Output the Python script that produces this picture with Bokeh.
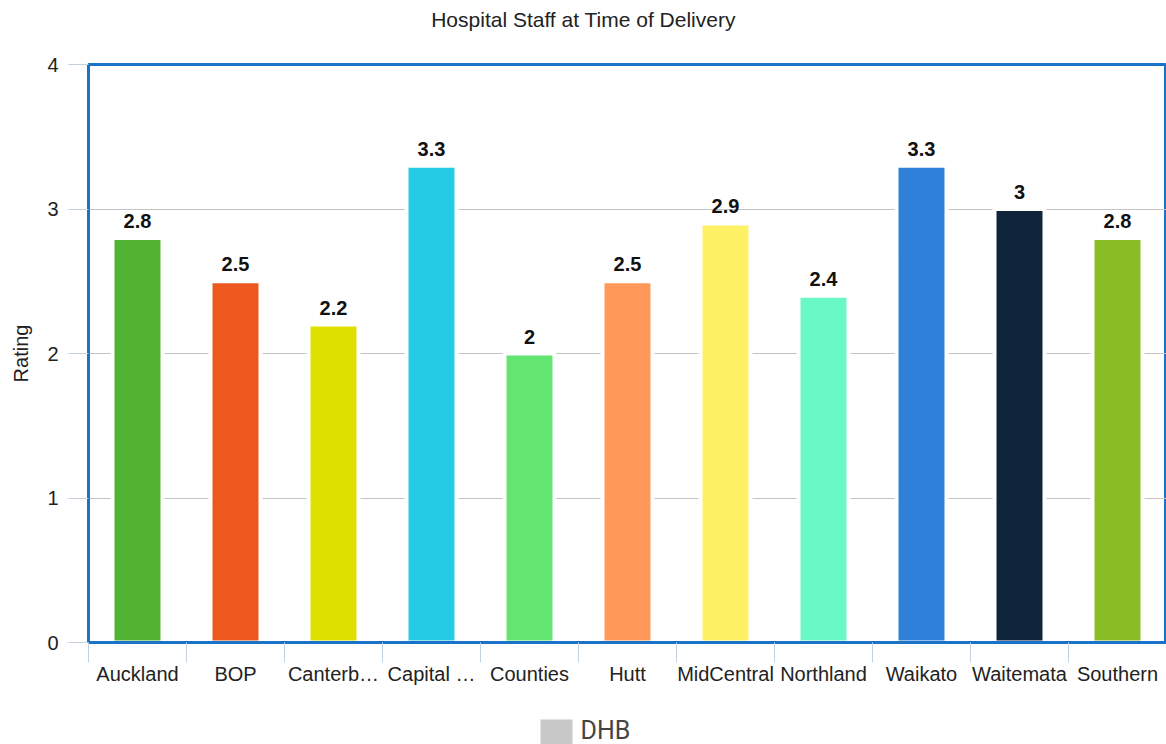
from bokeh.plotting import figure
from bokeh.layouts import column
from bokeh.models import ColumnDataSource, Range1d, FixedTicker
from bokeh.core.properties import value
from bokeh.embed import file_html
from bokeh.resources import INLINE

# District health boards and their mean rating of hospital staff at delivery
dhbs = ["Auckland", "BOP", "Canterbury", "Capital & Coast", "Counties", "Hutt",
        "MidCentral", "Northland", "Waikato", "Waitemata", "Southern"]
tick_labels = ["Auckland", "BOP", "Canterb\u2026", "Capital \u2026", "Counties", "Hutt",
               "MidCentral", "Northland", "Waikato", "Waitemata", "Southern"]
ratings = [2.8, 2.5, 2.2, 3.3, 2.0, 2.5, 2.9, 2.4, 3.3, 3.0, 2.8]
bar_colors = ["#52B232", "#EC581E", "#DEE000", "#25CBE3", "#64E571", "#FF9858",
              "#FFF166", "#6AF9C4", "#2F80D9", "#10243C", "#8ABC24"]
y_ticks = [0, 1, 2, 3, 4]
chart_title = "Hospital Staff at Time of Delivery"
series_name = "DHB"

FONT = "Liberation Sans"
TEXT = "#222222"
TICK = "#c3d1df"
BORDER = "#1a73c8"
W = 1166
LEFT = 88  # width of the y-axis gutter; the column aligns all frames to it


def strip(height):
    """A bare canvas measured in page pixels, for the header and key.

    Its frame lines up with the chart frame, so the x range starts at LEFT."""
    f = figure(
        frame_width=W - LEFT, frame_height=height,
        x_range=Range1d(LEFT, W), y_range=Range1d(0, height),
        x_axis_location=None, y_axis_location=None,
        output_backend="svg", toolbar_location=None,
        min_border=0,
    )
    f.outline_line_color = None
    f.xgrid.grid_line_color = None
    f.ygrid.grid_line_color = None
    f.border_fill_color = "white"
    f.background_fill_color = "white"
    return f


# header with the chart title
head = strip(38)
head.text(x=[W / 2], y=[19], text=[chart_title],
          text_align="center", text_baseline="middle",
          text_font=value(FONT), text_font_size="21px", text_color=TEXT)

# each board occupies one unit-wide slot; bars sit at the slot centres
n = len(dhbs)
centres = [i + 0.5 for i in range(n)]

source = ColumnDataSource(dict(
    dhb=dhbs,
    pos=centres,
    rating=ratings,
    color=bar_colors,
    label=[f"{v:g}" for v in ratings],
))

p = figure(
    width=W, height=666,
    x_range=Range1d(0, n),
    y_range=Range1d(0, 4),
    output_backend="svg", toolbar_location=None,
    min_border_left=LEFT, min_border_right=0,
    min_border_top=26, min_border_bottom=62,
)

p.outline_line_color = BORDER
p.outline_line_width = 3
p.background_fill_color = "white"
p.border_fill_color = "white"

p.xgrid.grid_line_color = None
p.ygrid.grid_line_color = "#c4c4c4"
p.ygrid.grid_line_width = 1

ya = p.yaxis[0]
ya.ticker = FixedTicker(ticks=y_ticks)
ya.axis_line_color = BORDER
ya.axis_line_width = 3
ya.major_tick_out = 20
ya.major_tick_in = 0
ya.major_tick_line_color = TICK
ya.minor_tick_line_color = None
ya.major_label_standoff = 10
ya.major_label_text_font = FONT
ya.major_label_text_font_size = "20px"
ya.major_label_text_color = TEXT
ya.axis_label = "Rating"
ya.axis_label_text_font = FONT
ya.axis_label_text_font_size = "20px"
ya.axis_label_text_font_style = "normal"
ya.axis_label_text_color = TEXT
ya.axis_label_standoff = 12

# category axis: names at slot centres, tick marks at slot boundaries
xa = p.xaxis[0]
xa.ticker = FixedTicker(ticks=centres, minor_ticks=list(range(n + 1)))
xa.major_label_overrides = {c: lbl for c, lbl in zip(centres, tick_labels)}
xa.axis_line_color = BORDER
xa.axis_line_width = 3
xa.major_tick_line_color = None
xa.major_tick_out = 0
xa.major_tick_in = 0
xa.minor_tick_line_color = TICK
xa.minor_tick_out = 20
xa.minor_tick_in = 0
xa.major_label_standoff = 0
xa.major_label_text_font = FONT
xa.major_label_text_font_size = "20px"
xa.major_label_text_color = TEXT

p.vbar(x="pos", top="rating", width=0.51, source=source,
       fill_color="color", line_color="white", line_width=4)

p.text(x="pos", y="rating", text="label", source=source,
       text_align="center", text_baseline="bottom", y_offset=-10,
       text_font=value(FONT), text_font_size="20px", text_font_style="bold",
       text_color="#111111")

# series key under the chart
key = strip(40)
key.quad(left=[540], right=[572], bottom=[0], top=[25],
         fill_color="#c8c8c8", line_color=None)
key.text(x=[580], y=[14], text=[series_name],
         text_align="left", text_baseline="middle",
         text_font=value("Roboto"), text_font_size="25px", text_color="#444444")

layout = column(head, p, key, spacing=0)
open("out.html", "w").write(file_html(layout, INLINE))
